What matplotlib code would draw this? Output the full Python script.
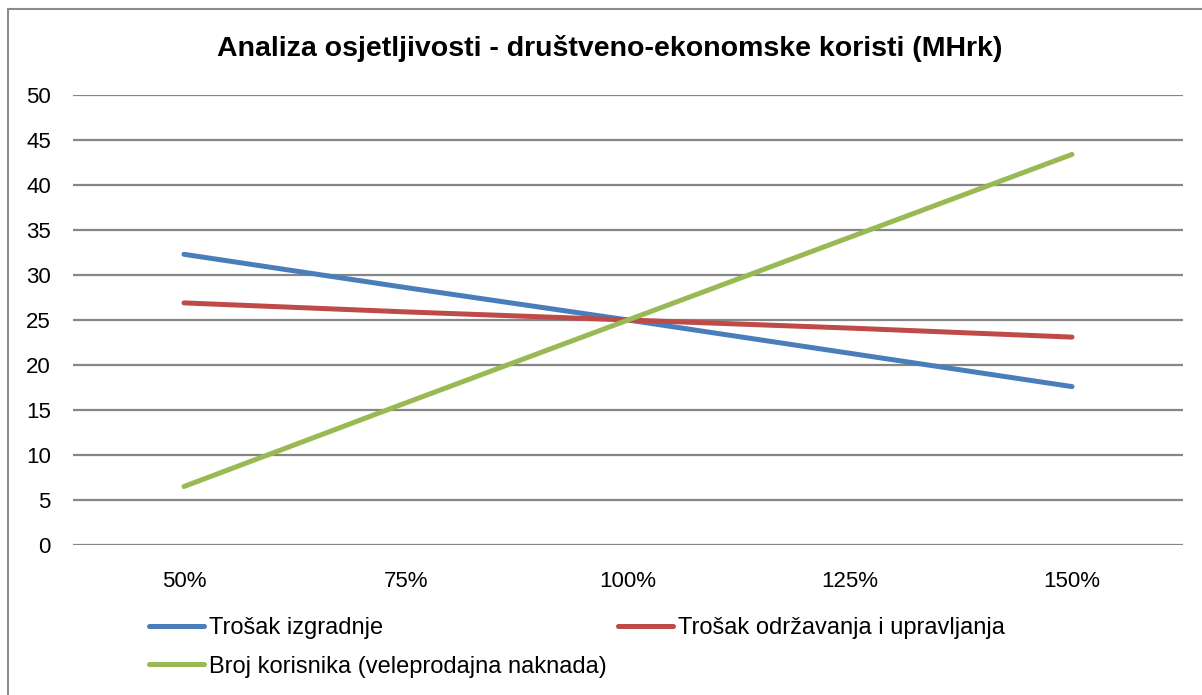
import matplotlib
matplotlib.use("Agg")
import matplotlib.pyplot as plt
from matplotlib.patches import Rectangle

plt.rcParams['font.family'] = ['Liberation Sans', 'DejaVu Sans']

categories = ["50%", "75%", "100%", "125%", "150%"]
trosak_izgradnje = [32.3, 28.6, 25.0, 21.3, 17.6]
trosak_odrzavanja = [26.9, 25.9, 25.0, 24.1, 23.1]
broj_korisnika = [6.5, 15.8, 25.0, 34.2, 43.4]

series_names = ["Trošak izgradnje",
                "Trošak održavanja i upravljanja",
                "Broj korisnika (veleprodajna naknada)"]
colors = ["#4A7EBB", "#BE4B48", "#98B954"]
title = "Analiza osjetljivosti - društveno-ekonomske koristi (MHrk)"
y_ticks = [0, 5, 10, 15, 20, 25, 30, 35, 40, 45, 50]

W, H = 1202, 695
fig = plt.figure(figsize=(W / 100, H / 100), dpi=100)

# chart frame
fig.patches.append(Rectangle((8 / W, -0.01), 1.2, 1 - 9 / H + 0.01,
                             transform=fig.transFigure, fill=False,
                             edgecolor="#8C8C8C", linewidth=1.5))

ax = fig.add_axes([73 / W, (H - 545) / H, 1110 / W, 450 / H])
x = list(range(len(categories)))
lines = []
for vals, name, c in zip([trosak_izgradnje, trosak_odrzavanja, broj_korisnika],
                         series_names, colors):
    ln, = ax.plot(x, vals, color=c, linewidth=3.6, solid_capstyle="round",
                  label=name, zorder=3)
    lines.append(ln)

ax.set_xlim(-0.5, len(categories) - 0.5)
ax.set_ylim(0, 50)
ax.set_yticks(y_ticks)
ax.set_xticks(x)
ax.set_xticklabels(categories)
ax.grid(axis="y", color="#868686", linewidth=1.6)
ax.set_axisbelow(True)
for s in ax.spines.values():
    s.set_visible(False)
ax.tick_params(axis="both", length=0, labelsize=16, colors="black")
ax.tick_params(axis="y", pad=16)
ax.tick_params(axis="x", pad=19)

fig.text(610 / W, 1 - 48 / H, title, ha="center", va="center",
         fontsize=20.5, fontweight="bold")

# column-first ordering: blue and green in the first column, red in the second
order = [0, 2, 1]
fig.legend([lines[i] for i in order], [series_names[i] for i in order],
           ncol=2, frameon=False, fontsize=17,
           loc="upper left", bbox_to_anchor=(149 / W, 1 - 617 / H),
           handlelength=2.35, handletextpad=0.2, columnspacing=0.45,
           labelspacing=0.7, borderaxespad=0, borderpad=0)

fig.savefig("out.png", dpi=100)
